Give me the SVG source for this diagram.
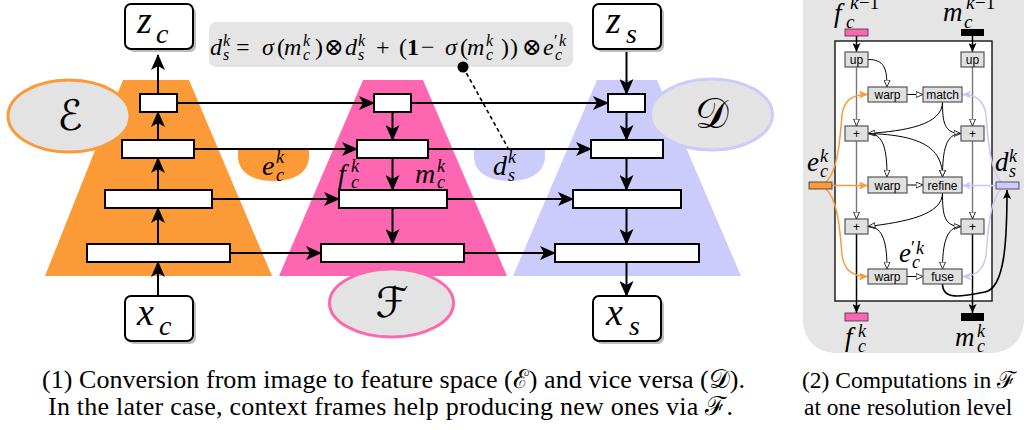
<svg xmlns="http://www.w3.org/2000/svg" width="1026" height="430" viewBox="0 0 1026 430">
<style>
.box{fill:#fff;stroke:#000;stroke-width:2}
.sh{fill:#bdbdbd}
.ln{stroke:#000;stroke-width:2;fill:none}
.m{font-family:"Liberation Serif","DejaVu Serif",serif;font-style:italic;fill:#000}
.up{font-family:"Liberation Serif","DejaVu Serif",serif;font-style:normal}
.cal{font-family:"DejaVu Serif","DejaVu Sans","Noto Sans",serif;font-style:normal;text-anchor:middle}
.s{font-family:"Liberation Sans",Arial,sans-serif;font-size:12px;text-anchor:middle}
.sb{fill:#e0e0e0;stroke:#555;stroke-width:1.2}
.gl{stroke:#777;stroke-width:1.4;fill:none}
.cl{stroke:#000;stroke-width:1;fill:none}
.cap{font-family:"Liberation Serif","DejaVu Serif",serif;fill:#000}
</style>
<defs>
<marker id="big" markerUnits="userSpaceOnUse" markerWidth="16" markerHeight="14" refX="15" refY="7" orient="auto"><path d="M0,0 L16,7 L0,14 L4,7 Z" fill="#000"/></marker>
<marker id="sm" markerUnits="userSpaceOnUse" markerWidth="9" markerHeight="8" refX="9" refY="4" orient="auto"><path d="M0,0 L9,4 L0,8 L2,4 Z" fill="#000"/></marker>
<marker id="oa" markerUnits="userSpaceOnUse" markerWidth="8" markerHeight="7" refX="7.5" refY="3.5" orient="auto"><path d="M0.5,0.5 L7.5,3.5 L0.5,6.5 Z" fill="#fff" stroke="#000" stroke-width="0.8"/></marker>
<marker id="oran" markerUnits="userSpaceOnUse" markerWidth="9" markerHeight="8" refX="9" refY="4" orient="auto"><path d="M0,0 L9,4 L0,8 L2,4 Z" fill="#fd9a38"/></marker>
<marker id="lav" markerUnits="userSpaceOnUse" markerWidth="9" markerHeight="8" refX="9" refY="4" orient="auto"><path d="M0,0 L9,4 L0,8 L2,4 Z" fill="#c8c8f8"/></marker>
</defs>

<!-- trapezoids -->
<g id="encoder">
<polygon points="123,80 189,80 272,276 45,276" fill="#fd9a38"/>
</g>
<g id="fusion">
<polygon points="363,80 423,80 507,276 279,276" fill="#ff66b2"/>
</g>
<g id="decoder">
<polygon points="597,80 657,80 741,276 513,276" fill="#ccccfc"/>
</g>

<!-- blobs -->
<g id="blob-e">
<path d="M238,149 H309 V156 C309,172 295,181 273.5,181 C252,181 238,172 238,156 Z" fill="#fd9a38"/>
<text class="m" font-size="28" x="262" y="175">e</text>
<text class="m" font-size="18" x="276" y="163">k</text>
<text class="m" font-size="18" x="276" y="181">c</text>
</g>
<g id="blob-d">
<path d="M474,149 H545 V156 C545,172 531,181 509.5,181 C488,181 474,172 474,156 Z" fill="#ccccfc"/>
<text class="m" font-size="28" x="493" y="175">d</text>
<text class="m" font-size="18" x="508" y="163">k</text>
<text class="m" font-size="18" x="508" y="181">s</text>
</g>

<!-- formula -->
<g id="formula">
<rect x="209" y="22" width="364" height="45" rx="7" fill="#e5e5e5"/>
<text class="m" font-size="24" y="55"><tspan x="210">d</tspan><tspan x="223" y="46" font-size="16">k</tspan><tspan x="223" y="60" font-size="16">s</tspan><tspan class="up" x="236" y="55">=</tspan><tspan x="262">σ</tspan><tspan class="up" x="277">(</tspan><tspan x="284">m</tspan><tspan x="303" y="46" font-size="16">k</tspan><tspan x="303" y="60" font-size="16">c</tspan><tspan class="up" x="315" y="55">)</tspan><tspan class="up" x="324">⊗</tspan><tspan x="345">d</tspan><tspan x="358" y="46" font-size="16">k</tspan><tspan x="358" y="60" font-size="16">s</tspan><tspan class="up" x="376" y="55">+</tspan><tspan class="up" x="399">(</tspan><tspan class="up" font-weight="bold" x="407">1</tspan><tspan class="up" x="421">−</tspan><tspan x="445">σ</tspan><tspan class="up" x="460">(</tspan><tspan x="467">m</tspan><tspan x="486" y="46" font-size="16">k</tspan><tspan x="486" y="60" font-size="16">c</tspan><tspan class="up" x="501" y="55">)</tspan><tspan class="up" x="510">)</tspan><tspan class="up" x="522">⊗</tspan><tspan x="543">e</tspan><tspan class="up" x="554" y="46" font-size="16">′</tspan><tspan x="559" y="46" font-size="16">k</tspan><tspan x="555" y="60" font-size="16">c</tspan></text>
</g>

<!-- left panel connectors -->
<g id="connectors">
<line class="ln" x1="158" y1="296" x2="158" y2="262" marker-end="url(#big)"/>
<line class="ln" x1="158" y1="244" x2="158" y2="208" marker-end="url(#big)"/>
<line class="ln" x1="158" y1="190" x2="158" y2="158" marker-end="url(#big)"/>
<line class="ln" x1="158" y1="140" x2="158" y2="112" marker-end="url(#big)"/>
<line class="ln" x1="158" y1="94" x2="158" y2="55" marker-end="url(#big)"/>

<line class="ln" x1="392.5" y1="112" x2="392.5" y2="140" marker-end="url(#big)"/>
<line class="ln" x1="392.5" y1="158" x2="392.5" y2="190" marker-end="url(#big)"/>
<line class="ln" x1="392.5" y1="208" x2="392.5" y2="244" marker-end="url(#big)"/>

<line class="ln" x1="626.5" y1="52" x2="626.5" y2="94" marker-end="url(#big)"/>
<line class="ln" x1="626.5" y1="112" x2="626.5" y2="140" marker-end="url(#big)"/>
<line class="ln" x1="626.5" y1="158" x2="626.5" y2="190" marker-end="url(#big)"/>
<line class="ln" x1="626.5" y1="208" x2="626.5" y2="244" marker-end="url(#big)"/>
<line class="ln" x1="626.5" y1="262" x2="626.5" y2="296" marker-end="url(#big)"/>

<line class="ln" x1="177" y1="103" x2="374" y2="103" marker-end="url(#big)"/>
<line class="ln" x1="411" y1="103" x2="608" y2="103" marker-start="url(#big)" marker-end="url(#big)"/>
<line class="ln" x1="194" y1="149" x2="357" y2="149" marker-end="url(#big)"/>
<line class="ln" x1="428" y1="149" x2="591" y2="149" marker-start="url(#big)" marker-end="url(#big)"/>
<line class="ln" x1="212" y1="199" x2="339" y2="199" marker-end="url(#big)"/>
<line class="ln" x1="447" y1="199" x2="573" y2="199" marker-start="url(#big)" marker-end="url(#big)"/>
<line class="ln" x1="230" y1="253" x2="321" y2="253" marker-end="url(#big)"/>
<line class="ln" x1="464" y1="253" x2="555" y2="253" marker-start="url(#big)" marker-end="url(#big)"/>

<line x1="463" y1="67" x2="508" y2="148" stroke="#000" stroke-width="1.6" stroke-dasharray="4,3"/>
<circle cx="463" cy="67" r="5.5" fill="#000"/>
</g>

<!-- layer boxes -->
<g id="enc-layers">
<rect class="box" x="140" y="94" width="37" height="18"/>
<rect class="box" x="122" y="140" width="72" height="18"/>
<rect class="box" x="105" y="190" width="107" height="18"/>
<rect class="box" x="87" y="244" width="143" height="18"/>
</g>
<g id="fus-layers">
<rect class="box" x="374" y="94" width="37" height="18"/>
<rect class="box" x="357" y="140" width="71" height="18"/>
<rect class="box" x="339" y="190" width="108" height="18"/>
<rect class="box" x="321" y="244" width="143" height="18"/>
</g>
<g id="dec-layers">
<rect class="box" x="608" y="94" width="37" height="18"/>
<rect class="box" x="591" y="140" width="72" height="18"/>
<rect class="box" x="573" y="190" width="108" height="18"/>
<rect class="box" x="555" y="244" width="144" height="18"/>
</g>

<g id="fusion-labels">
<text class="m" font-size="28" x="338" y="183">f</text>
<text class="m" font-size="18" x="351" y="172">k</text>
<text class="m" font-size="18" x="351" y="188">c</text>
<text class="m" font-size="28" x="415" y="183">m</text>
<text class="m" font-size="18" x="437" y="172">k</text>
<text class="m" font-size="18" x="437" y="188">c</text>
</g>

<!-- ellipses -->
<g id="E">
<ellipse cx="69" cy="116" rx="61" ry="36" fill="#e3e3e3" stroke="#fd9a38" stroke-width="3"/>
<text class="cal" font-size="42" x="70" y="130">ℰ</text>
</g>
<g id="D">
<ellipse cx="711.5" cy="114.5" rx="61" ry="35.5" fill="#e3e3e3" stroke="#ccccfc" stroke-width="3"/>
<text class="cal" font-size="42" x="712" y="128">𝒟</text>
</g>
<g id="F">
<ellipse cx="391.5" cy="303" rx="62" ry="34" fill="#e3e3e3" stroke="#ff66b2" stroke-width="3"/>
<text class="cal" font-size="42" x="392" y="317">ℱ</text>
</g>

<!-- io nodes -->
<g id="zc">
<rect class="sh" x="128" y="7" width="68" height="45" rx="6"/>
<rect class="box" x="125" y="4" width="68" height="45" rx="6"/>
<text class="m" font-size="38"><tspan x="137" y="33">z</tspan><tspan x="156" y="43" font-size="28">c</tspan></text>
</g>
<g id="xc">
<rect class="sh" x="128" y="299" width="68" height="45" rx="6"/>
<rect class="box" x="125" y="296" width="68" height="45" rx="6"/>
<text class="m" font-size="38"><tspan x="137" y="325">x</tspan><tspan x="159" y="335" font-size="28">c</tspan></text>
</g>
<g id="zs">
<rect class="sh" x="596" y="7" width="68" height="45" rx="6"/>
<rect class="box" x="593" y="4" width="68" height="45" rx="6"/>
<text class="m" font-size="38"><tspan x="606" y="33">z</tspan><tspan x="626" y="43" font-size="28">s</tspan></text>
</g>
<g id="xs">
<rect class="sh" x="596" y="299" width="68" height="45" rx="6"/>
<rect class="box" x="593" y="296" width="68" height="45" rx="6"/>
<text class="m" font-size="38"><tspan x="606" y="325">x</tspan><tspan x="629" y="335" font-size="28">s</tspan></text>
</g>

<!-- right panel -->
<g id="panel2">
<rect x="803" y="-30" width="221" height="383" rx="32" fill="#e5e5e5"/>
<rect x="835" y="41" width="157" height="260" fill="#fff" stroke="#222" stroke-width="1.5"/>
</g>
<g id="panel2-connectors">
<line x1="856.5" y1="36" x2="856.5" y2="52" stroke="#000" stroke-width="1.5" marker-end="url(#sm)"/>
<line x1="972.5" y1="36" x2="972.5" y2="52" stroke="#000" stroke-width="1.5" marker-end="url(#sm)"/>
<line class="gl" x1="856.5" y1="67" x2="856.5" y2="126" marker-end="url(#oa)"/>
<line class="gl" x1="972.5" y1="67" x2="972.5" y2="126" marker-end="url(#oa)"/>
<line class="gl" x1="856.5" y1="141" x2="856.5" y2="219" marker-end="url(#oa)"/>
<line class="gl" x1="972.5" y1="141" x2="972.5" y2="219" marker-end="url(#oa)"/>
<line x1="856.5" y1="234" x2="856.5" y2="313" stroke="#000" stroke-width="1.5" marker-end="url(#sm)"/>
<line x1="972.5" y1="234" x2="972.5" y2="313" stroke="#000" stroke-width="1.5" marker-end="url(#sm)"/>
<path class="cl" d="M868,59.5 C884,59.5 887,68 887,87" marker-end="url(#oa)"/>
<path class="cl" d="M907,94.5 L923,94.5" marker-end="url(#oa)"/>
<path class="cl" d="M942.5,102 C942.5,125 905,131 868,133.5" marker-end="url(#oa)"/>
<path class="cl" d="M942.5,102 C942.5,122 944,133.5 961,133.5" marker-end="url(#oa)"/>
<path class="cl" d="M868,133.5 C884,133.5 887,150 887,177" marker-end="url(#oa)"/>
<path class="cl" d="M868,133.5 C925,135 942.5,150 942.5,177" marker-end="url(#oa)"/>
<path class="cl" d="M961,133.5 C946,133.5 942.5,150 942.5,177" marker-end="url(#oa)"/>
<path class="cl" d="M907,185 L923,185" marker-end="url(#oa)"/>
<path class="cl" d="M942.5,193 C942.5,215 905,222 868,226.5" marker-end="url(#oa)"/>
<path class="cl" d="M942.5,193 C942.5,215 944,226.5 961,226.5" marker-end="url(#oa)"/>
<path class="cl" d="M868,226.5 C884,226.5 887,245 887,269" marker-end="url(#oa)"/>
<path class="cl" d="M961,226.5 C946,226.5 942.5,245 942.5,269" marker-end="url(#oa)"/>
<path class="cl" d="M907,276.5 L923,276.5" marker-end="url(#oa)"/>
<path d="M942.5,284 C942.5,300 960,297 985,292 C1005,288 1007,240 1007,190" fill="none" stroke="#000" stroke-width="1.6" marker-end="url(#sm)"/>
<path d="M826,182 C838,170 840,140 842,115 C844,100 852,94.5 868,94.5" fill="none" stroke="#fd9a38" stroke-width="1.5" marker-end="url(#oran)"/>
<path d="M832,185.5 L868,185.5" fill="none" stroke="#fd9a38" stroke-width="1.5" marker-end="url(#oran)"/>
<path d="M826,189 C838,200 840,230 842,255 C844,270 852,276.5 868,276.5" fill="none" stroke="#fd9a38" stroke-width="1.5" marker-end="url(#oran)"/>
<path d="M1001,182 C990,170 988,140 986,115 C984,100 976,94.5 962,94.5" fill="none" stroke="#c8c8f8" stroke-width="1.5" marker-end="url(#lav)"/>
<path d="M996,185.5 L962,185.5" fill="none" stroke="#c8c8f8" stroke-width="1.5" marker-end="url(#lav)"/>
<path d="M1001,189 C990,200 988,230 986,255 C984,270 976,276.5 962,276.5" fill="none" stroke="#c8c8f8" stroke-width="1.5" marker-end="url(#lav)"/>
</g>
<g id="bars">
<rect x="845" y="29" width="23" height="7" fill="#ff66b2" stroke="#333" stroke-width="0.8"/>
<rect x="961" y="29" width="23" height="7" fill="#000"/>
<rect x="809" y="182" width="23" height="7" fill="#fd9a38" stroke="#333" stroke-width="0.8"/>
<rect x="996" y="182" width="23" height="7" fill="#ccccfc" stroke="#333" stroke-width="0.8"/>
<rect x="845" y="313" width="23" height="8" fill="#ff66b2" stroke="#333" stroke-width="0.8"/>
<rect x="961" y="313" width="23" height="8" fill="#000"/>
</g>
<g id="ops">
<g id="up1"><rect class="sb" x="845" y="52" width="23" height="15"/><text class="s" x="856.5" y="64">up</text></g>
<g id="up2"><rect class="sb" x="961" y="52" width="23" height="15"/><text class="s" x="972.5" y="64">up</text></g>
<g id="warp1"><rect class="sb" x="868" y="87" width="39" height="15"/><text class="s" x="887.5" y="99">warp</text></g>
<g id="match"><rect class="sb" x="923" y="87" width="39" height="15"/><text class="s" x="942.5" y="99">match</text></g>
<g id="plus1"><rect class="sb" x="845" y="126" width="23" height="15"/><text class="s" x="856.5" y="138">+</text></g>
<g id="plus2"><rect class="sb" x="961" y="126" width="23" height="15"/><text class="s" x="972.5" y="138">+</text></g>
<g id="warp2"><rect class="sb" x="868" y="177" width="39" height="16"/><text class="s" x="887.5" y="189.5">warp</text></g>
<g id="refine"><rect class="sb" x="923" y="177" width="39" height="16"/><text class="s" x="942.5" y="189.5">refine</text></g>
<g id="plus3"><rect class="sb" x="845" y="219" width="23" height="15"/><text class="s" x="856.5" y="231">+</text></g>
<g id="plus4"><rect class="sb" x="961" y="219" width="23" height="15"/><text class="s" x="972.5" y="231">+</text></g>
<g id="warp3"><rect class="sb" x="868" y="269" width="39" height="15"/><text class="s" x="887.5" y="281">warp</text></g>
<g id="fuse"><rect class="sb" x="923" y="269" width="39" height="15"/><text class="s" x="942.5" y="281">fuse</text></g>
</g>
<g id="panel2-labels">
<text class="m" font-size="27"><tspan x="834" y="22">f</tspan><tspan x="846" y="28" font-size="19">c</tspan><tspan x="850" y="9" font-size="19">k</tspan><tspan class="up" x="859" y="9" font-size="19">−1</tspan></text>
<text class="m" font-size="27"><tspan x="943" y="21">m</tspan><tspan x="964" y="28" font-size="19">c</tspan><tspan x="966" y="9" font-size="19">k</tspan><tspan class="up" x="975" y="9" font-size="19">−1</tspan></text>
<text class="m" font-size="27"><tspan x="807" y="171">e</tspan><tspan x="820" y="162" font-size="18">k</tspan><tspan x="820" y="177" font-size="18">c</tspan></text>
<text class="m" font-size="27"><tspan x="995" y="171">d</tspan><tspan x="1009" y="162" font-size="18">k</tspan><tspan x="1009" y="177" font-size="18">s</tspan></text>
<text class="m" font-size="27"><tspan x="899" y="262">e</tspan><tspan class="up" x="911" y="254" font-size="18">′</tspan><tspan x="916" y="254" font-size="18">k</tspan><tspan x="912" y="268" font-size="18">c</tspan></text>
<text class="m" font-size="27"><tspan x="845" y="346">f</tspan><tspan x="858" y="337" font-size="18">k</tspan><tspan x="858" y="352" font-size="18">c</tspan></text>
<text class="m" font-size="27"><tspan x="955" y="346">m</tspan><tspan x="977" y="337" font-size="18">k</tspan><tspan x="977" y="352" font-size="18">c</tspan></text>
</g>

<!-- captions -->
<g id="captions">
<text class="cap" font-size="26" x="42" y="388" textLength="703" lengthAdjust="spacing">(1) Conversion from image to feature space (ℰ) and vice versa (𝒟).</text>
<text class="cap" font-size="26" x="48" y="415" textLength="685" lengthAdjust="spacing">In the later case, context frames help producing new ones via ℱ.</text>
<text class="cap" font-size="23.5" x="802" y="388">(2) Computations in ℱ</text>
<text class="cap" font-size="23.5" x="804" y="415">at one resolution level</text>
</g>
</svg>
